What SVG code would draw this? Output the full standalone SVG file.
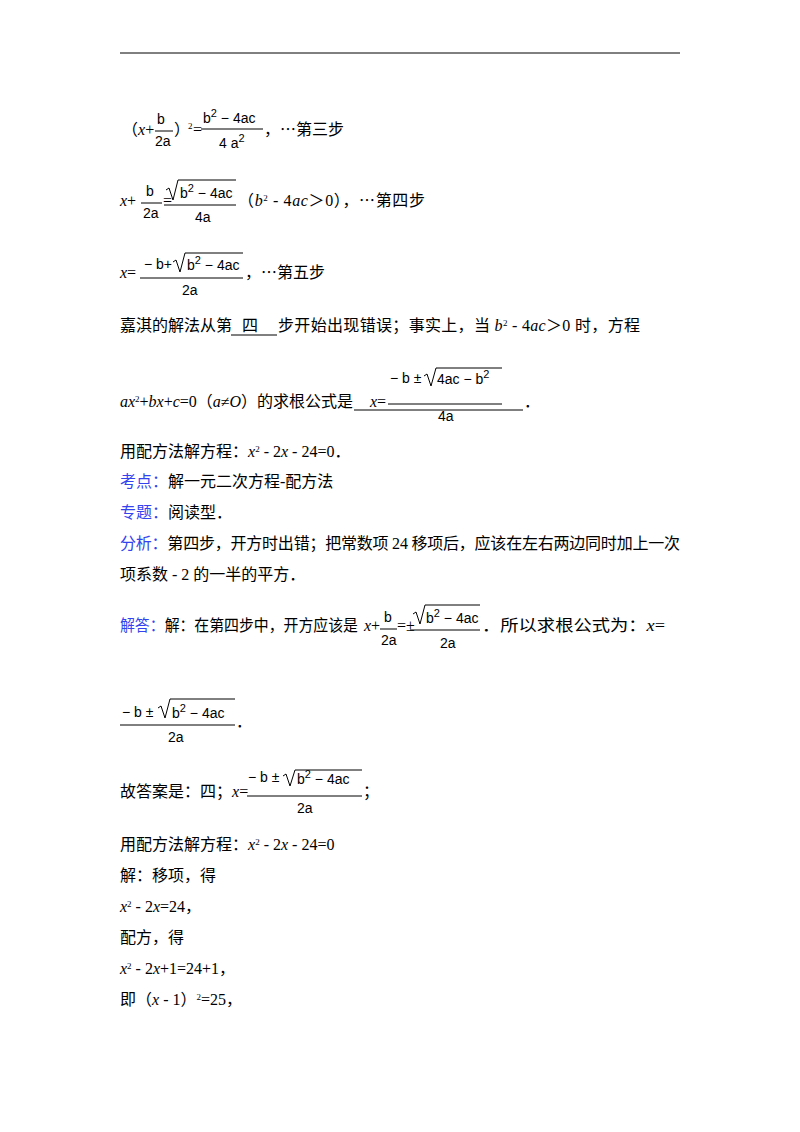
<svg xmlns="http://www.w3.org/2000/svg" width="800" height="1132" viewBox="0 0 800 1132">
<style>
text{font-family:"Liberation Serif","Noto Sans CJK SC",serif;font-size:16px;fill:#000}
.m{font-family:"Liberation Sans","Noto Sans CJK SC",sans-serif;font-size:14px}
.i{font-style:italic}
.b{fill:#3344ee}
.s{font-size:9px}
line{stroke:#000;stroke-width:1}
path{stroke:#000;stroke-width:1;fill:none}
</style>
<rect width="800" height="1132" fill="#fff"/>
<line x1="120" y1="53" x2="680" y2="53"/>
<!-- line 1 -->
<text x="122" y="135">（<tspan class="i">x</tspan>+</text>
<text class="m" x="157" y="124">b</text><line x1="155" y1="131" x2="173" y2="131"/><text class="m" x="155" y="146">2a</text>
<text x="174" y="135">）</text><text class="s" x="188" y="129">2</text><text x="193" y="135">=</text>
<text class="m" x="203" y="123">b<tspan dy="-6" font-size="11">2</tspan><tspan dy="6"> − 4ac</tspan></text>
<line x1="201" y1="129" x2="263" y2="129"/><text class="m" x="219" y="148">4 a<tspan dy="-6" font-size="11">2</tspan></text>
<text x="264" y="135">，⋯第三步</text>
<!-- line 2 -->
<text x="120" y="206"><tspan class="i">x</tspan>+</text>
<text class="m" x="146" y="196">b</text><line x1="141" y1="203" x2="162" y2="203"/><text class="m" x="143" y="218">2a</text>
<text x="163" y="206">=</text>
<path d="M166,190 L169,188 L173,200 L178,180 L236,180"/>
<text class="m" x="180" y="198">b<tspan dy="-6" font-size="11">2</tspan><tspan dy="6"> − 4ac</tspan></text>
<line x1="164" y1="205" x2="236" y2="205"/><text class="m" x="195" y="222">4a</text>
<text x="238" y="206" textLength="187" lengthAdjust="spacing">（<tspan class="i">b</tspan><tspan class="s" dy="-5">2</tspan><tspan dy="5"> - 4</tspan><tspan class="i">ac</tspan>＞0），⋯第四步</text>
<!-- line 3 -->
<text x="120" y="278"><tspan class="i">x</tspan>=</text>
<text class="m" x="144" y="269">− b+</text>
<path d="M173,262 L176,260 L180,272 L185,253 L243,253"/>
<text class="m" x="187" y="270">b<tspan dy="-6" font-size="11">2</tspan><tspan dy="6"> − 4ac</tspan></text>
<line x1="140" y1="278" x2="243" y2="278"/><text class="m" x="182" y="295">2a</text>
<text x="245" y="278">，⋯第五步</text>
<!-- line 4 -->
<text x="120" y="331">嘉淇的解法从第</text>
<text x="242" y="331">四</text>
<line x1="231" y1="335" x2="277" y2="335"/>
<text x="278" y="331" textLength="362" lengthAdjust="spacing">步开始出现错误；事实上，当 <tspan class="i">b</tspan><tspan class="s" dy="-5">2</tspan><tspan dy="5"> - 4</tspan><tspan class="i">ac</tspan>＞0 时，方程</text>
<!-- line 5 -->
<text x="120" y="407" textLength="233" lengthAdjust="spacing"><tspan class="i">ax</tspan><tspan class="s" dy="-5">2</tspan><tspan dy="5">+</tspan><tspan class="i">bx</tspan>+<tspan class="i">c</tspan>=0（<tspan class="i">a</tspan>≠<tspan class="i">O</tspan>）的求根公式是</text>
<line x1="354" y1="410" x2="523" y2="410"/>
<text x="370" y="407"><tspan class="i">x</tspan>=</text>
<text class="m" x="390" y="383">− b ±</text>
<path d="M424,376 L427,374 L431,386 L436,368 L502,368"/>
<text class="m" x="437" y="384">4ac − b<tspan dy="-6" font-size="11">2</tspan></text>
<line x1="388" y1="404" x2="502" y2="404"/><text class="m" x="438" y="421">4a</text>
<text x="524" y="407">．</text>
<text x="120" y="457">用配方法解方程：<tspan class="i">x</tspan><tspan class="s" dy="-5">2</tspan><tspan dy="5"> - 2</tspan><tspan class="i">x</tspan> - 24=0．</text>
<text x="120" y="487"><tspan class="b">考点：</tspan>解一元二次方程-配方法</text>
<text x="120" y="518"><tspan class="b">专题：</tspan>阅读型．</text>
<text x="120" y="549" textLength="560" lengthAdjust="spacing"><tspan class="b">分析：</tspan>第四步，开方时出错；把常数项 24 移项后，应该在左右两边同时加上一次</text>
<text x="120" y="580">项系数 - 2 的一半的平方．</text>
<!-- 解答 -->
<text x="120" y="631" textLength="238" lengthAdjust="spacingAndGlyphs"><tspan class="b">解答：</tspan>解：在第四步中，开方应该是</text>
<text x="364" y="631"><tspan class="i">x</tspan>+</text>
<text class="m" x="384" y="622">b</text><line x1="380" y1="629" x2="397" y2="629"/><text class="m" x="381" y="645">2a</text>
<text x="397" y="631" font-size="12">=±</text>
<path d="M413,614 L416,612 L420,624 L425,605 L480,605"/>
<text class="m" x="426" y="623">b<tspan dy="-6" font-size="11">2</tspan><tspan dy="6"> − 4ac</tspan></text>
<line x1="410" y1="630" x2="480" y2="630"/><text class="m" x="440" y="648">2a</text>
<text x="482" y="631" textLength="183" lengthAdjust="spacingAndGlyphs">．所以求根公式为：<tspan class="i">x</tspan>=</text>
<text class="m" x="122" y="717">− b ±</text>
<path d="M158,708 L161,706 L165,718 L170,699 L235,699"/>
<text class="m" x="172" y="718">b<tspan dy="-6" font-size="11">2</tspan><tspan dy="6"> − 4ac</tspan></text>
<line x1="120" y1="725" x2="235" y2="725"/><text class="m" x="168" y="742">2a</text>
<text x="236" y="727">．</text>
<text x="120" y="797">故答案是：四；<tspan class="i">x</tspan>=</text>
<text class="m" x="248" y="782">− b ±</text>
<path d="M283,776 L286,774 L290,786 L295,770 L362,770"/>
<text class="m" x="297" y="784">b<tspan dy="-6" font-size="11">2</tspan><tspan dy="6"> − 4ac</tspan></text>
<line x1="247" y1="796" x2="362" y2="796"/><text class="m" x="297" y="813">2a</text>
<text x="363" y="797">；</text>
<text x="120" y="850">用配方法解方程：<tspan class="i">x</tspan><tspan class="s" dy="-5">2</tspan><tspan dy="5"> - 2</tspan><tspan class="i">x</tspan> - 24=0</text>
<text x="120" y="881">解：移项，得</text>
<text x="120" y="912"><tspan class="i">x</tspan><tspan class="s" dy="-5">2</tspan><tspan dy="5"> - 2</tspan><tspan class="i">x</tspan>=24，</text>
<text x="120" y="943">配方，得</text>
<text x="120" y="974"><tspan class="i">x</tspan><tspan class="s" dy="-5">2</tspan><tspan dy="5"> - 2</tspan><tspan class="i">x</tspan>+1=24+1，</text>
<text x="120" y="1005">即（<tspan class="i">x</tspan> - 1）<tspan class="s" dy="-5">2</tspan><tspan dy="5">=25，</tspan></text>
</svg>
